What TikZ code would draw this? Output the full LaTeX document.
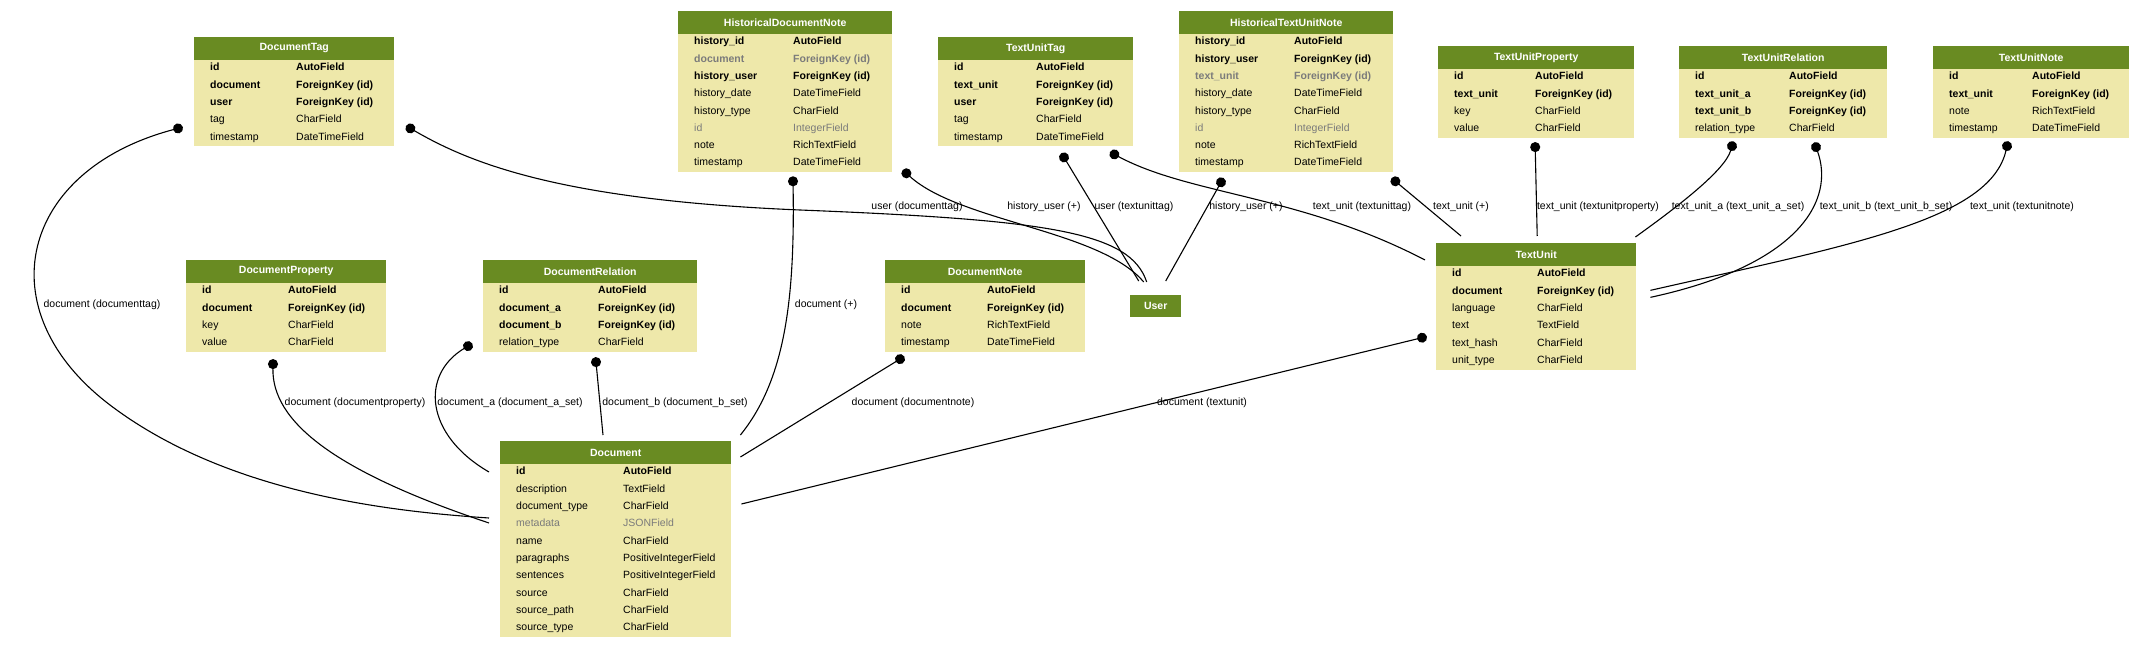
\documentclass[tikz,border=0pt]{standalone}
\usepackage{fontspec}
\setmainfont{Liberation Sans}
\usetikzlibrary{arrows.meta}
\definecolor{hdgreen}{HTML}{698B22}
\definecolor{tabfill}{HTML}{EEE8AA}
\definecolor{fldgray}{HTML}{7B7B7B}
\tikzset{
  fn/.style={font=\fontsize{10.5}{12}\selectfont,inner sep=0pt,text height=8pt,text depth=2.5pt},
  fb/.style={fn,font=\fontsize{10.5}{12}\selectfont\bfseries},
  fg/.style={fn,text=fldgray},
  fgb/.style={fb,text=fldgray},
  tabbody/.style={fill=tabfill,inner sep=0pt,anchor=north west},
  tabhead/.style={fill=hdgreen,text=white,font=\fontsize{10.5}{12}\selectfont\bfseries,
    inner sep=0pt,minimum height=22.5pt,anchor=north west},
  lbl/.style={font=\fontsize{10.5}{12}\selectfont,inner sep=0pt},
  fk/.style={draw,line width=1.1pt,{Circle[length=10pt]}-,shorten <=-5pt}
}
% #1 name, #2 x, #3 y, #4 width, #5 offset of 2nd column, #6 rows, #7 title, #8 fields
\newcommand{\dbtable}[8]{%
  \node[tabbody,minimum width=#4pt,minimum height=22.5pt+#6*17.3pt] (#1) at (#2,#3) {};
  \node[tabhead,minimum width=#4pt] (#1-h) at (#1.north west) {#7};
  \foreach \fname/\ftype/\fsty [count=\rowno] in {#8} {
    \node[\fsty,anchor=west] (#1-n\rowno) at ([shift={(16,{22.5+(\rowno-0.5)*17.3})}]#1.north west) {\fname};
    \node[\fsty,anchor=west] (#1-t\rowno) at ([shift={(#5,{22.5+(\rowno-0.5)*17.3})}]#1.north west) {\ftype};
  }%
}
\begin{document}
\begin{tikzpicture}[x=1pt,y=-1pt]
  \useasboundingbox[fill=white] (0,0) rectangle (2144,647);

  % tables
  \dbtable{dtag}{194}{37}{200}{102}{5}{DocumentTag}{id/AutoField/fb, document/ForeignKey (id)/fb,
    user/ForeignKey (id)/fb, tag/CharField/fn, timestamp/DateTimeField/fn}
  \dbtable{hdn}{678}{11}{214}{115}{8}{HistoricalDocumentNote}{history\_id/AutoField/fb,
    document/ForeignKey (id)/fgb, history\_user/ForeignKey (id)/fb, history\_date/DateTimeField/fn,
    history\_type/CharField/fn, id/IntegerField/fg, note/RichTextField/fn, timestamp/DateTimeField/fn}
  \dbtable{tutag}{938}{37}{195}{98}{5}{TextUnitTag}{id/AutoField/fb, text\_unit/ForeignKey (id)/fb,
    user/ForeignKey (id)/fb, tag/CharField/fn, timestamp/DateTimeField/fn}
  \dbtable{htun}{1179}{11}{214}{115}{8}{HistoricalTextUnitNote}{history\_id/AutoField/fb,
    history\_user/ForeignKey (id)/fb, text\_unit/ForeignKey (id)/fgb, history\_date/DateTimeField/fn,
    history\_type/CharField/fn, id/IntegerField/fg, note/RichTextField/fn, timestamp/DateTimeField/fn}
  \dbtable{tuprop}{1438}{46}{196}{97}{4}{TextUnitProperty}{id/AutoField/fb,
    text\_unit/ForeignKey (id)/fb, key/CharField/fn, value/CharField/fn}
  \dbtable{turel}{1679}{46}{208}{110}{4}{TextUnitRelation}{id/AutoField/fb,
    text\_unit\_a/ForeignKey (id)/fb, text\_unit\_b/ForeignKey (id)/fb, relation\_type/CharField/fn}
  \dbtable{tunote}{1933}{46}{196}{99}{4}{TextUnitNote}{id/AutoField/fb,
    text\_unit/ForeignKey (id)/fb, note/RichTextField/fn, timestamp/DateTimeField/fn}
  \dbtable{dprop}{186}{260}{200}{102}{4}{DocumentProperty}{id/AutoField/fb,
    document/ForeignKey (id)/fb, key/CharField/fn, value/CharField/fn}
  \dbtable{drel}{483}{260}{214}{115}{4}{DocumentRelation}{id/AutoField/fb,
    document\_a/ForeignKey (id)/fb, document\_b/ForeignKey (id)/fb, relation\_type/CharField/fn}
  \dbtable{dnote}{885}{260}{200}{102}{4}{DocumentNote}{id/AutoField/fb,
    document/ForeignKey (id)/fb, note/RichTextField/fn, timestamp/DateTimeField/fn}
  \dbtable{tu}{1436}{243}{200}{101}{6}{TextUnit}{id/AutoField/fb, document/ForeignKey (id)/fb,
    language/CharField/fn, text/TextField/fn, text\_hash/CharField/fn, unit\_type/CharField/fn}
  \dbtable{doc}{500}{441}{231}{123}{10}{Document}{id/AutoField/fb, description/TextField/fn,
    document\_type/CharField/fn, metadata/JSONField/fg, name/CharField/fn,
    paragraphs/PositiveIntegerField/fn, sentences/PositiveIntegerField/fn, source/CharField/fn,
    source\_path/CharField/fn, source\_type/CharField/fn}
  \node[tabhead,minimum width=51pt,minimum height=22pt] (user) at (1130,295) {User};

  % foreign keys
  \draw[fk] ([shift={(-16,-18)}]dtag.south west) .. controls (20,170) and (-15,310) .. (110,405)
    .. controls (230,496) and (400,512) .. ([shift={(-11,77)}]doc.north west);
  \draw[fk] ([shift={(16,-18)}]dtag.south east) .. controls (470,163) and (560,200) .. (800,210)
    .. controls (1050,220) and (1130,232) .. ([shift={(-9,-13)}]user.north);
  \draw[fk] ([shift={(115,9)}]hdn.south west) .. controls (795,300) and (785,380) .. ([shift={(9,-6)}]doc.north east);
  \draw[fk] ([shift={(14,1)}]hdn.south east) .. controls (960,222) and (1100,230) .. ([shift={(-12,-13)}]user.north);
  \draw[fk] ([shift={(126,11)}]tutag.south west) -- ([shift={(-17,-14)}]user.north);
  \draw[fk] ([shift={(-19,8)}]tutag.south east) .. controls (1190,195) and (1300,195) .. ([shift={(-11,17)}]tu.north west);
  \draw[fk] ([shift={(42,10)}]htun.south west) -- ([shift={(10,-14)}]user.north);
  \draw[fk] ([shift={(2,9)}]htun.south east) -- ([shift={(25,-7)}]tu.north west);
  \draw[fk] ([shift={(-1,9)}]tuprop.south) -- ([shift={(1,-7)}]tu.north);
  \draw[fk] ([shift={(53,8)}]turel.south west) .. controls (1725,170) and (1680,205) .. ([shift={(-1,-6)}]tu.north east);
  \draw[fk] ([shift={(137,9)}]turel.south west) .. controls (1835,200) and (1800,265) .. ([shift={(14,-9)}]tu.east);
  \draw[fk] ([shift={(74,8)}]tunote.south west) .. controls (1990,220) and (1850,245) .. ([shift={(14,-16)}]tu.east);
  \draw[fk] ([shift={(87,12)}]dprop.south west) .. controls (272,420) and (330,470) .. ([shift={(-11,82)}]doc.north west);
  \draw[fk] ([shift={(-15,-6)}]drel.south west) .. controls (420,375) and (425,435) .. ([shift={(-11,31)}]doc.north west);
  \draw[fk] ([shift={(113,10)}]drel.south west) -- ([shift={(103,-6)}]doc.north west);
  \draw[fk] ([shift={(15,7)}]dnote.south west) -- ([shift={(9,16)}]doc.north east);
  \draw[fk] ([shift={(-14,-32)}]tu.south west) -- ([shift={(10,63)}]doc.north east);

  % labels
  \node[lbl] (l-dtag-doc) at (102,305) {document (documenttag)};
  \node[lbl] (l-dtag-user) at (917,207) {user (documenttag)};
  \node[lbl] (l-hdn-doc) at (826,305) {document (+)};
  \node[lbl] (l-hdn-user) at (1044,207) {history\_user (+)};
  \node[lbl] (l-tutag-user) at (1134,207) {user (textunittag)};
  \node[lbl] (l-htun-user) at (1246,207) {history\_user (+)};
  \node[lbl] (l-tutag-tu) at (1362,207) {text\_unit (textunittag)};
  \node[lbl] (l-htun-tu) at (1461,207) {text\_unit (+)};
  \node[lbl] (l-tuprop-tu) at (1598,207) {text\_unit (textunitproperty)};
  \node[lbl] (l-turel-tua) at (1738,207) {text\_unit\_a (text\_unit\_a\_set)};
  \node[lbl] (l-turel-tub) at (1886,207) {text\_unit\_b (text\_unit\_b\_set)};
  \node[lbl] (l-tunote-tu) at (2022,207) {text\_unit (textunitnote)};
  \node[lbl] (l-dprop-doc) at (355,403) {document (documentproperty)};
  \node[lbl] (l-drel-doca) at (510,403) {document\_a (document\_a\_set)};
  \node[lbl] (l-drel-docb) at (675,403) {document\_b (document\_b\_set)};
  \node[lbl] (l-dnote-doc) at (913,403) {document (documentnote)};
  \node[lbl] (l-tu-doc) at (1202,403) {document (textunit)};
\end{tikzpicture}
\end{document}
